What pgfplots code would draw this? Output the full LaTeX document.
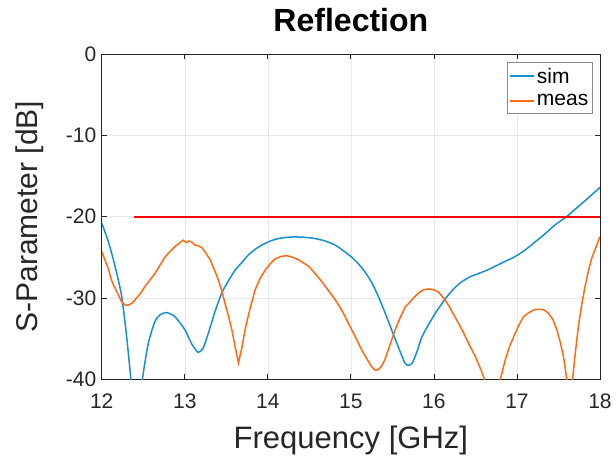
\documentclass[border=0pt]{standalone}
\usepackage{fontspec}
\setmainfont{Liberation Sans}
\usepackage{pgfplots}
\pgfplotsset{compat=1.18}
\definecolor{mblue}{HTML}{1590D0}
\definecolor{morange}{HTML}{FF6A13}
\definecolor{axgray}{HTML}{262626}
\begin{document}
\begin{tikzpicture}
\begin{axis}[
  scale only axis, width=498pt, height=325pt,
  xmin=12, xmax=18, ymin=-40, ymax=0,
  xtick={12,13,...,18}, ytick={-40,-30,...,0},
  tick align=inside, major tick length=5pt,
  grid=major, grid style={color=black!9, line width=0.5pt},
  axis line style={color=axgray, line width=0.8pt},
  tick style={color=axgray, line width=0.8pt},
  /pgf/number format/assume math mode=true,
  every tick label/.append style={font=\fontsize{21}{25}\selectfont, text=axgray},
  xticklabel style={yshift=-11pt},
  yticklabel style={xshift=-2pt},
  xlabel={Frequency [GHz]}, ylabel={S-Parameter [dB]},
  xlabel style={font=\fontsize{31}{36}\selectfont, text=axgray, at={(axis description cs:0.5,-0.19)}, anchor=center},
  ylabel style={font=\fontsize{30}{35}\selectfont, text=axgray, at={(axis description cs:-0.144,0.5)}, anchor=center},
  title={Reflection},
  title style={font=\bfseries\fontsize{32}{36}\selectfont, at={(axis description cs:0.5,1.085)}, anchor=center},
  legend style={at={(0.984,0.975)}, anchor=north east, font=\fontsize{21}{24}\selectfont,
    draw=black!45, line width=0.5pt, inner xsep=2pt, inner ysep=4pt, row sep=7pt,
    nodes={inner sep=1.5pt}},
  legend cell align=left,
  legend image code/.code={\draw[#1] (0pt,0.5pt) -- (24pt,0.5pt);},
]
\addlegendimage{color=mblue, line width=2pt}
\addlegendentry{sim}
\addlegendimage{color=morange, line width=2pt}
\addlegendentry{meas}
\addplot[color=mblue, line width=1.5pt, smooth, tension=0.4, forget plot] coordinates {
(12.00,-20.8) (12.08,-23.1) (12.16,-26.1) (12.24,-29.8) (12.30,-34.8) (12.35,-40.0) (12.38,-44) (12.42,-50) (12.46,-44) (12.49,-40.0)
(12.56,-35.6) (12.64,-32.9) (12.70,-32.1) (12.775,-31.8) (12.88,-32.3) (13.00,-33.9) (13.08,-35.6) (13.16,-36.7)
(13.22,-36.2) (13.285,-34.3) (13.36,-31.8) (13.445,-29.4) (13.525,-27.9) (13.605,-26.6) (13.69,-25.6) (13.767,-24.7)
(13.85,-24.0) (13.927,-23.5) (14.03,-23.0) (14.128,-22.7) (14.23,-22.55) (14.329,-22.5) (14.45,-22.55) (14.57,-22.7)
(14.69,-23.0) (14.81,-23.5) (14.91,-24.2) (15.01,-25.0) (15.09,-25.8) (15.17,-26.8) (15.25,-28.1) (15.33,-29.8)
(15.41,-31.8) (15.49,-33.9) (15.57,-36.0) (15.65,-38.0) (15.694,-38.3) (15.74,-38.0) (15.80,-36.5) (15.855,-34.8)
(15.935,-33.3) (16.015,-31.9) (16.096,-30.7) (16.176,-29.6) (16.257,-28.7) (16.337,-28.0) (16.437,-27.4) (16.537,-27.0)
(16.638,-26.6) (16.739,-26.1) (16.86,-25.5) (16.98,-24.9) (17.10,-24.1) (17.22,-23.1) (17.34,-22.1) (17.46,-21.0)
(17.60,-20.0) (17.70,-19.1) (17.78,-18.4) (17.88,-17.5) (17.99,-16.5) (18.00,-16.4)
};
\addplot[color=morange, line width=1.5pt, forget plot] coordinates {
(12.00,-24.3) (12.04,-25.4) (12.08,-26.4) (12.11,-27.6) (12.14,-28.4) (12.17,-29.0) (12.20,-29.6) (12.23,-30.3) (12.26,-30.7)
(12.29,-30.9) (12.32,-30.9) (12.37,-30.6) (12.42,-30.0) (12.47,-29.4) (12.52,-28.6) (12.58,-27.8) (12.64,-27.0)
(12.70,-26.0) (12.76,-25.0) (12.82,-24.3) (12.88,-23.7) (12.93,-23.3) (12.98,-22.9) (13.02,-23.2) (13.05,-23.0)
(13.08,-23.1) (13.124,-23.5) (13.165,-23.6) (13.204,-23.8) (13.255,-24.5) (13.305,-25.3) (13.355,-26.5) (13.405,-27.8)
(13.445,-29.1) (13.485,-30.7) (13.525,-32.2) (13.566,-33.9) (13.606,-36.0) (13.646,-38.0) (13.686,-36.2) (13.726,-33.9)
(13.786,-31.3) (13.847,-29.0) (13.907,-27.6) (13.967,-26.6) (14.028,-25.8) (14.088,-25.2) (14.16,-24.9) (14.228,-24.8)
(14.30,-25.0) (14.369,-25.3) (14.43,-25.7) (14.49,-26.1) (14.57,-27.0) (14.65,-28.0) (14.73,-29.1) (14.81,-30.2)
(14.89,-31.5) (14.97,-33.1) (15.05,-34.7) (15.13,-36.4) (15.21,-37.8) (15.26,-38.6) (15.293,-38.9) (15.33,-38.8)
(15.37,-38.4) (15.41,-37.6) (15.47,-35.8) (15.534,-33.9) (15.595,-32.4) (15.655,-31.1) (15.695,-30.7) (15.755,-30.0)
(15.815,-29.4) (15.875,-29.0) (15.936,-28.9) (16.00,-29.0) (16.056,-29.3) (16.116,-30.0) (16.176,-30.9) (16.257,-32.4)
(16.337,-33.9) (16.418,-35.6) (16.498,-37.2) (16.56,-38.7) (16.61,-40.0) (16.66,-43) (16.70,-45) (16.75,-43) (16.80,-40.0)
(16.86,-37.6) (16.91,-36.0) (16.96,-34.8) (17.02,-33.4) (17.08,-32.3) (17.13,-31.9) (17.18,-31.6) (17.23,-31.4)
(17.28,-31.4) (17.33,-31.5) (17.38,-31.9) (17.43,-32.6) (17.48,-33.9) (17.52,-35.4) (17.56,-37.2) (17.60,-40.0)
(17.635,-43) (17.67,-40.0) (17.70,-37.0) (17.74,-33.5) (17.78,-30.8) (17.82,-28.6) (17.86,-26.7) (17.90,-25.1)
(17.95,-23.8) (17.99,-22.7) (18.00,-22.5)
};
\addplot[color=red, line width=2.2pt, forget plot] coordinates {(12.39,-20) (18,-20)};
\end{axis}
\pgfresetboundingbox
\path ([shift={(-101.7pt,-82pt)}]current axis.south west) rectangle ([shift={(16pt,54pt)}]current axis.north east);
\end{tikzpicture}
\end{document}
